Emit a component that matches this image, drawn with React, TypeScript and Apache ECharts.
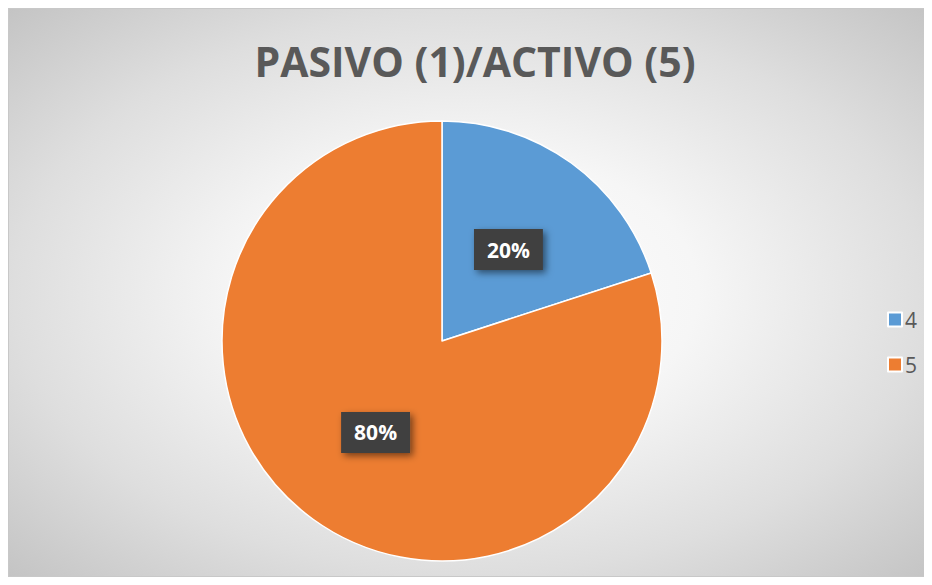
import React, { useEffect, useRef } from "react";
import * as echarts from "echarts";

const categories = ["4", "5"];
const values = [20, 80];
const colors = ["#5B9BD5", "#ED7D31"];
const titleText = "PASIVO (1)/ACTIVO (5)";

export default function App() {
  const ref = useRef<HTMLDivElement>(null);
  useEffect(() => {
    if (!ref.current) return;
    const chart = echarts.init(ref.current, undefined, { renderer: "svg" });
    const font = "'Open Sans', 'Noto Sans', sans-serif";
    chart.setOption({
      animation: false,
      title: {
        text: titleText,
        left: 461,
        textAlign: "center",
        top: 26,
        textStyle: {
          fontFamily: font,
          fontWeight: "bold",
          fontSize: 41,
          color: "#595959",
        },
      },
      legend: {
        orient: "vertical",
        left: 878,
        top: 300,
        padding: 0,
        itemWidth: 14,
        itemHeight: 14,
        itemGap: 24,
        icon: "rect",
        data: categories,
        textStyle: {
          fontFamily: font,
          fontSize: 21,
          lineHeight: 21,
          color: "#595959",
          padding: [0, 0, 0, -2],
        },
      },
      series: [
        {
          type: "pie",
          center: [433, 332],
          radius: [0, 220],
          startAngle: 90,
          clockwise: true,
          itemStyle: { borderColor: "#ffffff", borderWidth: 1.5 },
          label: {
            show: true,
            position: "inside",
            formatter: (p: any) => `${p.value}%`,
            color: "#ffffff",
            fontFamily: font,
            fontWeight: "bold",
            fontSize: 21,
            lineHeight: 22,
            backgroundColor: "#404040",
            padding: [10, 13, 9, 13],
            shadowColor: "rgba(0,0,0,0.5)",
            shadowBlur: 7,
            shadowOffsetX: 3,
            shadowOffsetY: 3,
          },
          labelLine: { show: false },
          emphasis: { disabled: true },
          data: categories.map((c, i) => ({
            name: c,
            value: values[i],
            itemStyle: { color: colors[i] },
          })),
        },
      ],
    });
    return () => chart.dispose();
  }, []);
  return (
    <div
      ref={ref}
      style={{
        width: 924,
        height: 569,
        boxSizing: "border-box",
        border: "1px solid #c8c8c8",
        background:
          "radial-gradient(ellipse at 50% 50%, #ffffff 0%, #f6f6f6 35%, #dedede 70%, #c4c4c4 100%)",
      }}
    />
  );
}
